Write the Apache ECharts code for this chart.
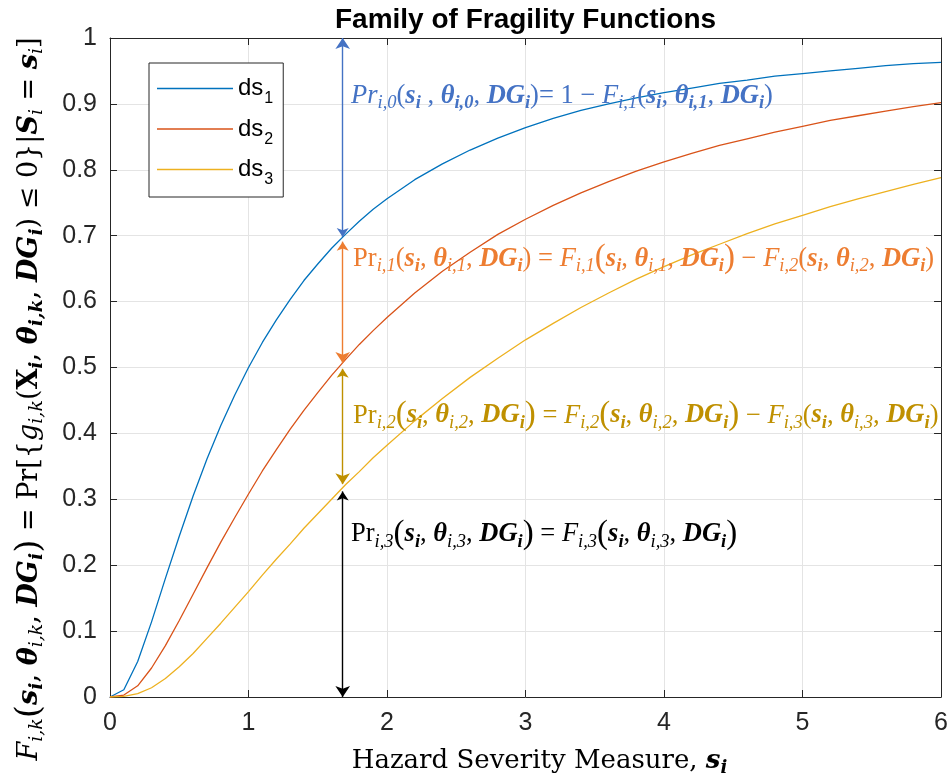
<!DOCTYPE html>
<html><head><meta charset="utf-8">
<script src="https://cdn.jsdelivr.net/npm/echarts@6/dist/echarts.min.js"></script>
<style>html,body{margin:0;padding:0;background:#fff}#c{width:951px;height:784px}</style>
</head><body><div id="c"></div>
<script>
// ---------------- data ----------------
const sValues = [0,0.1,0.2,0.3,0.4,0.5,0.6,0.7,0.8,0.9,1.0,1.1,1.2,1.3,1.4,1.5,1.6,1.7,1.8,1.9,
  2.0,2.2,2.4,2.6,2.8,3.0,3.2,3.4,3.6,3.8,4.0,4.2,4.4,4.6,4.8,5.0,5.2,5.4,5.6,5.8,6.0];
const ds1 = [0,0.011,0.054,0.114,0.180,0.244,0.305,0.361,0.412,0.458,0.500,0.538,0.572,0.603,0.632,0.657,0.681,0.702,0.722,0.740,
  0.756,0.785,0.809,0.830,0.848,0.864,0.878,0.890,0.900,0.909,0.917,0.924,0.931,0.936,0.942,0.946,0.950,0.954,0.958,0.961,0.963];
const ds2 = [0,0.003,0.017,0.044,0.078,0.116,0.156,0.196,0.235,0.272,0.308,0.343,0.375,0.406,0.435,0.462,0.488,0.512,0.535,0.556,
  0.576,0.613,0.646,0.675,0.702,0.725,0.746,0.765,0.782,0.798,0.812,0.825,0.837,0.847,0.857,0.866,0.875,0.882,0.889,0.896,0.902];
const ds3 = [0,0.001,0.005,0.014,0.028,0.046,0.066,0.089,0.112,0.136,0.160,0.185,0.209,0.232,0.256,0.278,0.300,0.322,0.342,0.363,
  0.382,0.419,0.453,0.485,0.514,0.542,0.567,0.591,0.613,0.634,0.653,0.671,0.687,0.703,0.718,0.731,0.744,0.756,0.767,0.778,0.788];
const seriesNames = ['ds1','ds2','ds3'];
const xTickValues = [0,1,2,3,4,5,6];
const yTickValues = [0,0.1,0.2,0.3,0.4,0.5,0.6,0.7,0.8,0.9,1];
const arrowS = 1.68;
const arrowFrom = [0.698, 0.691, 0.498, 0.312];
const arrowTo   = [1.0,   0.507, 0.323, 0.0];

// ---------------- styles ----------------
const lineColors = ['#0072BD','#D95319','#EDB120'];
const arrowColors = ['#4472C4','#ED7D31','#BF9000','#000000'];
const AXC = '#262626';
const SERIF = 'Liberation Serif';
const SERIF2 = 'DejaVu Serif';
const F = 26.5, FS = 18.5;

const chart = echarts.init(document.getElementById('c'), null, {renderer:'canvas'});

function pairs(vals){ return sValues.map((s,i)=>[s, vals[i]]); }
const allVals = [ds1, ds2, ds3];

const lineSeries = seriesNames.map((n,i)=>({
  name:n, type:'line', data:pairs(allVals[i]), symbol:'none', showSymbol:false,
  lineStyle:{color:lineColors[i], width:1.3}, itemStyle:{color:lineColors[i]},
  z:3, silent:true
}));

const arrowSeries = {
  type:'lines', coordinateSystem:'cartesian2d', silent:true, z:4,
  symbol:['arrow','arrow'], symbolSize:[9,11],
  data: arrowFrom.map((a,i)=>({coords:[[arrowS,a],[arrowS,arrowTo[i]]],
      lineStyle:{color:arrowColors[i], width:1.4, opacity:1}}))
};

const axisCommon = {
  type:'value',
  axisLine:{show:true, onZero:false, lineStyle:{color:AXC, width:1}},
  axisTick:{show:true, inside:true, length:7, lineStyle:{color:AXC, width:1}},
};

chart.setOption({
  animation:false,
  backgroundColor:'#fff',
  grid:{left:110, right:9, top:38, bottom:87, containLabel:false},
  xAxis:[
    Object.assign({}, axisCommon, {min:0, max:6, interval:1, position:'bottom',
      axisLabel:{fontSize:25, color:AXC, fontFamily:'Liberation Sans', margin:14,
        formatter:v=>xTickValues.includes(v)?String(v):''},
      splitLine:{show:true, lineStyle:{color:'#e4e4e4', width:1}}}),
    Object.assign({}, axisCommon, {min:0, max:6, interval:1, position:'top',
      axisLabel:{show:false}, splitLine:{show:false}})
  ],
  yAxis:[
    Object.assign({}, axisCommon, {min:0, max:1, interval:0.1, position:'left',
      axisLabel:{fontSize:25, color:AXC, fontFamily:'Liberation Sans', margin:13,
        formatter:v=>{const t=yTickValues.find(y=>Math.abs(y-v)<1e-9); return t===undefined?'':String(t);}},
      splitLine:{show:true, lineStyle:{color:'#e4e4e4', width:1}}}),
    Object.assign({}, axisCommon, {min:0, max:1, interval:0.1, position:'right',
      axisLabel:{show:false}, splitLine:{show:false}})
  ],
  legend:{
    data:seriesNames, orient:'vertical', left:149, top:63,
    padding:[7,10,9,8], itemGap:3.5, itemWidth:76, itemHeight:1.6, icon:'rect',
    backgroundColor:'#fff', borderColor:AXC, borderWidth:1, borderRadius:0,
    selectedMode:false,
    formatter:n=>'{a|ds}{s|'+n.slice(2)+'}',
    textStyle:{color:'#000', rich:{
      a:{fontSize:24, fontFamily:'Liberation Sans', color:'#000', lineHeight:39},
      s:{fontSize:16, fontFamily:'Liberation Sans', color:'#000', lineHeight:18, padding:[21,0,0,1]}
    }}
  },
  series:[...lineSeries, arrowSeries]
});

// ---------------- math-like rich text ----------------
function mkRich(fam, size, subSize, lh){
  return {
    r:{fontFamily:fam, fontSize:size, lineHeight:lh},
    it:{fontFamily:fam, fontSize:size, fontStyle:'italic', lineHeight:lh},
    bi:{fontFamily:fam, fontSize:size, fontStyle:'italic', fontWeight:'bold', lineHeight:lh},
    b:{fontFamily:fam, fontSize:size, fontWeight:'bold', lineHeight:lh},
    bp:{fontFamily:fam, fontSize:Math.round(size*1.25), lineHeight:lh},
    sb:{fontFamily:fam, fontSize:subSize, fontStyle:'italic', lineHeight:Math.round(lh*0.5), verticalAlign:'bottom'},
    sbb:{fontFamily:fam, fontSize:subSize, fontStyle:'italic', fontWeight:'bold', lineHeight:Math.round(lh*0.5), verticalAlign:'bottom'}
  };
}
function build(tokens){
  return tokens.map(([s,t])=> s==='p' ? t : '{'+s+'|'+t+'}').join('');
}
function args(k, thetaStyle){
  return [['r','('],['bi','s'],['sbb','i'],['r',', '],['bi','θ'],[thetaStyle||'sb','i,'+k],['r',', '],['bi','DG'],['sbb','i'],['r',')']];
}
function argsBig(k){
  return [['bp','('],['bi','s'],['sbb','i'],['r',', '],['bi','θ'],['sb','i,'+k],['r',', '],['bi','DG'],['sbb','i'],['bp',')']];
}
const blueTokens = [['it','Pr'],['sb','i,0'],['r','('],['bi','s'],['sbb','i'],['r',' , '],['bi','θ'],['sbb','i,0'],['r',', '],['bi','DG'],['sbb','i'],
  ['r',')= 1 − '],['it','F'],['sb','i,1'],...args(1,'sbb')];
const orangeTokens = [['r','Pr'],['sb','i,1'],...args(1),['r',' = '],['it','F'],['sb','i,1'],...argsBig(1),['r',' − '],['it','F'],['sb','i,2'],...args(2)];
const goldTokens = [['r','Pr'],['sb','i,2'],...argsBig(2),['r',' = '],['it','F'],['sb','i,2'],...argsBig(2),['r',' − '],['it','F'],['sb','i,3'],...args(3)];
const blackTokens = [['r','Pr'],['sb','i,3'],...argsBig(3),['r',' = '],['it','F'],['sb','i,3'],...argsBig(3)];
const yNameTokens = [['it','F'],['sb','i,k'],...argsBig('k'),['r',' = Pr['],['p','{'],['it','g'],['sb','i,k'],
  ['r','('],['b','X'],['sbb','i'],['r',', '],['bi','θ'],['sbb','i,k'],['r',', '],['bi','DG'],['sbb','i'],['r',') ≤ 0'],['p','}|'],
  ['bi','S'],['sb','i'],['r',' = '],['bi','s'],['sb','i'],['r',']']];
const xNameTokens = [['r','Hazard Severity Measure, '],['bi','s'],['sbb','i']];

const annAnchors = [[1.74,0.912],[1.755,0.665],[1.755,0.427],[1.74,0.247]];
const annTokens = [blueTokens, orangeTokens, goldTokens, blackTokens];

const graphics = annTokens.map((tk,i)=>{
  const p = chart.convertToPixel({gridIndex:0},[annAnchors[i][0], annAnchors[i][1]]);
  return {type:'text', x:p[0], y:p[1], z:10, silent:true,
    style:{text:build(tk), fill:arrowColors[i], fontFamily:SERIF, fontSize:F,
      align:'left', verticalAlign:'middle', rich:mkRich(SERIF, F, FS, 34)}};
});
const midX = chart.convertToPixel({gridIndex:0},[3,0])[0];
graphics.push({type:'text', x:midX, y:20, silent:true,
  style:{text:'Family of Fragility Functions', fill:'#000', font:'bold 28px "Liberation Sans"', align:'center', verticalAlign:'middle'}});
graphics.push({type:'text', x:midX+14, y:761, silent:true,
  style:{text:build(xNameTokens), fill:'#000', fontFamily:SERIF2, fontSize:26, align:'center', verticalAlign:'middle', rich:mkRich(SERIF2, 26, 18, 32)}});
graphics.push({type:'text', x:30, y:399, rotation:Math.PI/2, silent:true,
  style:{text:build(yNameTokens), fill:'#000', fontFamily:SERIF2, fontSize:27, align:'center', verticalAlign:'middle', rich:mkRich(SERIF2, 27, 19, 34)}});
chart.setOption({graphic:graphics});
</script></body></html>
